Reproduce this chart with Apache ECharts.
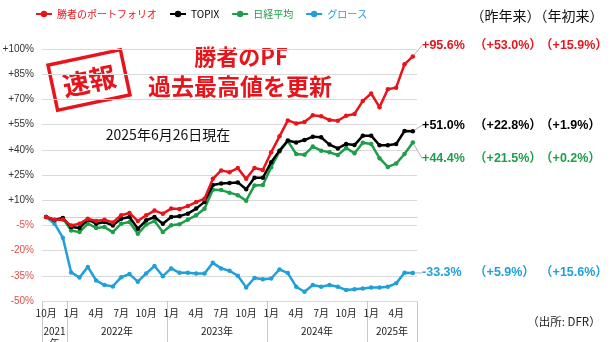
<!DOCTYPE html>
<html><head><meta charset="utf-8">
<script src="https://cdn.jsdelivr.net/npm/echarts@6/dist/echarts.min.js"></script>
<style>html,body{margin:0;padding:0;background:#fff}#c{width:610px;height:342px}</style>
</head><body><div id="c"></div>
<script>
const months = ['2021/10','2021/11','2021/12',
 '2022/1','2022/2','2022/3','2022/4','2022/5','2022/6','2022/7','2022/8','2022/9','2022/10','2022/11','2022/12',
 '2023/1','2023/2','2023/3','2023/4','2023/5','2023/6','2023/7','2023/8','2023/9','2023/10','2023/11','2023/12',
 '2024/1','2024/2','2024/3','2024/4','2024/5','2024/6','2024/7','2024/8','2024/9','2024/10','2024/11','2024/12',
 '2025/1','2025/2','2025/3','2025/4','2025/5','2025/6'];
const seriesNames = ['勝者のポートフォリオ','TOPIX','日経平均','グロース'];
const portfolio = [0,-1.6,-1.5,-5,-4,-1,-2.4,-1.6,-3.2,1,2.4,-2.4,1,3.8,2,5,4.8,6.5,8.9,10.9,22.7,27.7,26.7,29.1,22.7,29.2,28,38.5,48,57.5,55.7,56.5,60.5,60,57.7,57.3,60.3,61.3,69.1,73.5,65.4,76.1,77,90.9,95.6];
const topix = [0,-1.8,-0.6,-6,-6.5,-1.6,-4,-3,-5,-1,0,-7,-2,0,-4,0,0.5,2,5,9,19,20,20.2,20.6,16.5,23.3,23.3,32.6,39.5,45.5,44.4,45.8,47.8,47.4,43.1,40.8,43.5,42.8,48.4,48.4,42.7,42.7,43.4,51.2,51.0];
const nikkei = [0,-2,-0.8,-8,-9,-4,-6.5,-6,-9,-4,-3,-10,-4.5,-2.4,-8.9,-4.9,-4.3,-1.6,1,4.9,16.2,16,14.5,13,9.7,18.8,19,29.6,39,45.2,37.5,37.1,41.9,39.5,38.5,36.9,41.1,38,44.2,43.5,35,29.8,31.8,37.5,44.4];
const growth = [0,-4,-12.3,-33,-36,-29.7,-37.8,-40.5,-41.3,-35.8,-34,-38.5,-33.6,-29.2,-35.2,-30.6,-33.2,-33.2,-33.6,-33.6,-27.3,-30.6,-32,-35,-41.9,-36.3,-37,-36.6,-31.2,-33.4,-41.5,-44.5,-40.5,-41.5,-40.5,-41.5,-43.5,-43,-42.5,-42,-42,-41.5,-39.5,-33.2,-33.3];
const sinceLastYear = [53.0, 22.8, 21.5, 5.9];
const sinceYearStart = [15.9, 1.9, 0.2, 15.6];
const yTicks = {min:-50, max:100, step:15};

const colors = ['#e8141c','#000000','#1e9e4a','#1fa0d8'];
const allSeries = [portfolio, topix, nikkei, growth];
const labelDy = [-11, -6, 16, 0];
const fmt = v => (v >= 0 ? '+' : '') + v.toFixed(1) + '%';

const chart = echarts.init(document.getElementById('c'), null, {renderer:'canvas'});
const years = [];
months.forEach((m, i) => {
  const y = m.split('/')[0];
  let g = years.find(o => o.y === y);
  if (!g) { g = {y, first:i, last:i}; years.push(g); } else g.last = i;
});
const yearCenters = years.map(g => (g.first + g.last + 1) / 2);
const yearBounds = years.map(g => g.first).concat([months.length]);
const yearLabel = g => (g.last - g.first < 4) ? g.y + '\n年' : g.y + '年';

const labFont = 'Liberation Sans, Noto Sans CJK JP';
const series = allSeries.map((arr, k) => ({
  name: seriesNames[k], type: 'line', xAxisIndex: 0,
  symbol: 'circle', symbolSize: 4.5,
  lineStyle: {width: 2.5, color: colors[k]},
  itemStyle: {color: colors[k]},
  z: 10 - k,
  data: arr.map((v, i) => i === arr.length - 1 ? {
    value: v,
    label: {
      show: true, position: 'right', distance: 7,
      formatter: '{a|' + fmt(v) + '}{b|（' + fmt(sinceLastYear[k]) + '）}{c|（' + fmt(sinceYearStart[k]) + '）}',
      rich: {
        a: {width: 52, color: colors[k], fontSize: 12.5, fontWeight: 'bold', fontFamily: labFont},
        b: {width: 66, color: colors[k], fontSize: 12.5, fontWeight: 'bold', fontFamily: labFont},
        c: {color: colors[k], fontSize: 12.5, fontWeight: 'bold', fontFamily: labFont}
      }
    }
  } : v),
  labelLayout: {dy: labelDy[k]},
  labelLine: {show: true, lineStyle: {color: '#b0b0b0', width: 1}}
}));

chart.setOption({
  animation: false,
  grid: {left: 42, right: 193, top: 49, bottom: 41, outerBoundsMode: 'none', containLabel: false},
  legend: {
    top: 4, left: 30, itemWidth: 16, itemHeight: 8, itemGap: 12,
    data: seriesNames.map((n, k) => ({name: n, textStyle: {color: colors[k]}})),
    textStyle: {fontSize: 10, fontFamily: 'Noto Sans CJK JP'}
  },
  xAxis: [{
    type: 'category', data: months, boundaryGap: true,
    axisLine: {show: true, lineStyle: {color: '#d0d0d0'}},
    axisTick: {show: false},
    axisLabel: {
      interval: (i, v) => (+v.split('/')[1]) % 3 === 1,
      formatter: v => v.split('/')[1] + '月',
      fontSize: 10, color: '#222', margin: 7, fontFamily: 'Noto Sans CJK JP'
    }
  }, {
    type: 'value', min: 0, max: months.length, position: 'bottom',
    axisLine: {show: false}, splitLine: {show: false},
    axisTick: {show: true, customValues: yearBounds, length: 42, lineStyle: {color: '#c8c8c8'}},
    axisLabel: {
      customValues: yearCenters,
      formatter: v => { const g = years[yearCenters.indexOf(v)]; return g ? yearLabel(g) : ''; },
      fontSize: 10, color: '#222', margin: 24, lineHeight: 12, fontFamily: 'Noto Sans CJK JP',
      verticalAlign: 'top'
    }
  }],
  yAxis: {
    type: 'value', min: yTicks.min, max: yTicks.max, interval: yTicks.step,
    axisLine: {show: false}, axisTick: {show: false},
    splitLine: {lineStyle: {color: '#dadada'}},
    axisLabel: {
      formatter: v => (v > 0 ? '+' : '') + v + '%',
      color: v => (+v < 0 ? '#e0504a' : '#333'),
      fontSize: 10, margin: 8, fontFamily: 'Liberation Sans'
    }
  },
  graphic: [
    {type: 'group', x: 89, y: 80, rotation: 0.21, children: [
      {type: 'rect', shape: {x: -37, y: -23, width: 74, height: 46}, style: {fill: 'none', stroke: '#e8141c', lineWidth: 3.5}},
      {type: 'text', style: {text: '速報', x: 0, y: 1, align: 'center', verticalAlign: 'middle', fill: '#e8141c', font: 'bold 27px "Noto Sans CJK JP"'}}
    ]},
    {type: 'text', style: {text: '勝者のPF', x: 241, y: 57, align: 'center', verticalAlign: 'middle', fill: '#e8141c', font: 'bold 22px "Noto Sans CJK JP"'}},
    {type: 'text', style: {text: '過去最高値を更新', x: 240, y: 86, align: 'center', verticalAlign: 'middle', fill: '#e8141c', font: 'bold 23px "Noto Sans CJK JP"'}},
    {type: 'text', style: {text: '2025年6月26日現在', x: 168, y: 135, align: 'center', verticalAlign: 'middle', fill: '#111', font: '14px "Noto Sans CJK JP"'}},
    {type: 'text', style: {text: '（昨年来）（年初来）', x: 537, y: 16, align: 'center', verticalAlign: 'middle', fill: '#111', font: '14px "Noto Sans CJK JP"'}},
    {type: 'text', style: {text: '（出所: DFR）', x: 564, y: 322, align: 'center', verticalAlign: 'middle', fill: '#222', font: '11.5px "Noto Sans CJK JP"'}}
  ],
  series
});
</script></body></html>
